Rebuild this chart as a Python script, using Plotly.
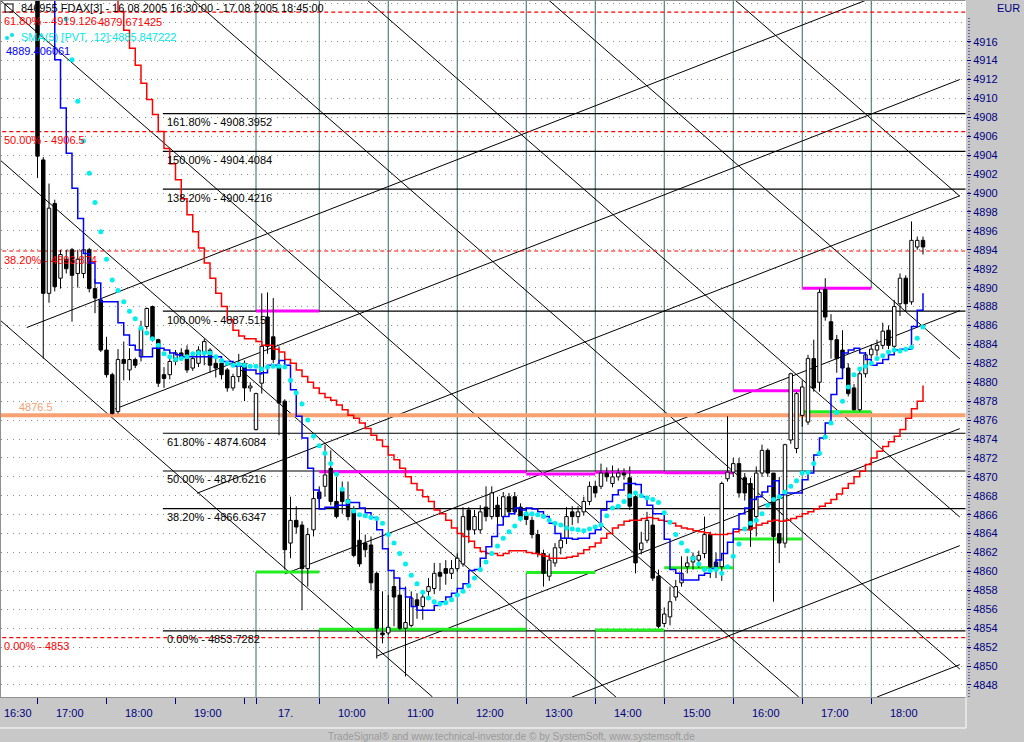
import plotly.graph_objects as go

# ---------------- data (5-minute bars, bar 0 = 16.08. 16:30) ----------------
bar_first = 6
opens = [4925.0, 4903.5, 4889.4, 4898.9, 4891.0, 4893.0, 4894.0, 4891.5, 4891.5, 4894.0,
         4889.9, 4888.7, 4883.4, 4880.8, 4876.9, 4882.4, 4881.3, 4882.4, 4882.7, 4885.9,
         4888.0, 4884.5, 4880.8, 4880.8, 4882.2, 4883.1, 4883.4, 4881.5, 4882.0, 4883.0,
         4883.4, 4882.0, 4882.0, 4881.3, 4879.4, 4880.6, 4882.0, 4879.4, 4875.0, 4879.9,
         4886.9, 4884.8, 4881.8, 4878.0, 4863.0, 4865.4, 4864.9, 4860.3, 4864.4, 4868.4,
         4869.0, 4870.9, 4867.4, 4868.5, 4867.6, 4866.5, 4863.3, 4863.0, 4862.8, 4859.8,
         4853.5, 4853.5, 4858.4, 4857.5, 4854.0, 4854.3, 4857.0, 4856.3, 4857.9, 4858.2,
         4859.9, 4860.3, 4859.8, 4860.3, 4860.8, 4866.5, 4864.4, 4864.4, 4866.8, 4865.8,
         4867.0, 4865.8, 4867.9, 4867.9, 4866.8, 4866.0, 4865.4, 4863.9, 4861.9, 4859.5,
         4860.9, 4862.5, 4863.5, 4866.3, 4865.8, 4866.3, 4867.4, 4869.0, 4869.0, 4870.4,
         4869.3, 4870.0, 4870.4, 4869.9, 4867.9, 4862.3, 4863.3, 4864.9, 4859.5, 4854.5,
         4855.2, 4857.3, 4858.8, 4860.5, 4861.0, 4861.2, 4861.9, 4863.9, 4861.0, 4860.5,
         4869.8, 4870.5, 4871.4, 4869.9, 4869.3, 4865.8, 4870.4, 4872.8, 4870.4, 4864.0,
         4863.0, 4873.9, 4873.0, 4876.5, 4875.8, 4882.5, 4880.0, 4889.8, 4886.4, 4884.5,
         4883.4, 4881.5, 4879.4, 4877.1, 4880.9, 4882.9, 4883.4, 4883.9, 4885.5, 4883.8,
         4888.3, 4891.0, 4888.5, 4894.3, 4895.0]
highs = [4926.0, 4903.8, 4901.0, 4899.3, 4894.0, 4894.0, 4894.2, 4894.0, 4894.2, 4894.2,
         4890.9, 4888.9, 4884.8, 4881.0, 4883.5, 4884.3, 4883.6, 4882.6, 4886.5, 4887.9,
         4888.1, 4884.6, 4881.6, 4882.5, 4883.4, 4883.6, 4883.9, 4883.2, 4883.8, 4884.6,
         4883.6, 4882.6, 4882.3, 4881.5, 4880.9, 4883.0, 4882.3, 4880.0, 4878.9, 4889.4,
         4889.5, 4888.9, 4883.8, 4878.2, 4867.9, 4866.9, 4865.3, 4864.6, 4868.6, 4869.0,
         4873.4, 4872.8, 4870.0, 4869.5, 4869.5, 4866.9, 4865.4, 4863.9, 4863.7, 4860.0,
         4857.9, 4857.5, 4859.3, 4858.4, 4858.4, 4857.9, 4857.7, 4858.0, 4859.3, 4860.9,
         4860.9, 4861.2, 4861.2, 4861.9, 4866.8, 4866.8, 4866.5, 4867.0, 4869.0, 4869.0,
         4867.9, 4868.4, 4868.3, 4868.4, 4867.2, 4866.8, 4865.8, 4864.4, 4862.3, 4861.9,
         4863.0, 4864.0, 4866.8, 4866.9, 4866.9, 4867.9, 4869.5, 4869.6, 4871.4, 4871.0,
         4871.2, 4870.9, 4870.9, 4871.1, 4868.1, 4864.2, 4866.3, 4866.4, 4860.2, 4856.2,
         4858.4, 4859.1, 4861.6, 4861.6, 4862.0, 4862.2, 4865.8, 4864.2, 4862.0, 4869.5,
         4876.4, 4872.0, 4872.0, 4870.4, 4869.9, 4871.1, 4873.4, 4873.0, 4870.4, 4870.0,
         4873.5, 4881.0, 4879.0, 4880.2, 4882.9, 4884.5, 4889.9, 4891.0, 4887.2, 4885.0,
         4885.5, 4882.0, 4879.8, 4881.2, 4883.2, 4884.0, 4884.5, 4886.3, 4886.0, 4888.7,
         4891.5, 4891.3, 4897.0, 4895.4, 4895.4]
lows = [4901.6, 4882.5, 4888.4, 4889.6, 4889.9, 4891.5, 4886.4, 4890.0, 4891.0, 4889.5,
        4887.3, 4883.2, 4880.5, 4876.6, 4876.7, 4880.2, 4880.2, 4881.5, 4882.2, 4885.6,
        4884.3, 4879.5, 4879.4, 4880.3, 4881.8, 4882.3, 4881.0, 4881.2, 4881.6, 4881.8,
        4881.0, 4880.5, 4880.3, 4879.0, 4879.1, 4880.0, 4878.0, 4879.0, 4874.9, 4878.8,
        4883.0, 4882.0, 4874.4, 4860.2, 4861.4, 4864.0, 4855.9, 4858.4, 4863.7, 4867.3,
        4867.9, 4867.0, 4865.6, 4866.1, 4865.4, 4861.5, 4860.5, 4861.5, 4858.0, 4850.8,
        4852.4, 4853.3, 4854.2, 4853.8, 4848.9, 4854.1, 4855.0, 4854.9, 4857.0, 4857.6,
        4858.0, 4858.6, 4859.2, 4860.0, 4860.5, 4863.0, 4863.9, 4864.0, 4865.3, 4865.5,
        4864.7, 4865.6, 4865.9, 4866.0, 4865.3, 4864.9, 4863.5, 4861.5, 4858.4, 4859.0,
        4860.5, 4861.8, 4862.9, 4864.9, 4865.1, 4865.9, 4867.0, 4867.8, 4868.7, 4869.5,
        4868.9, 4869.6, 4869.7, 4866.5, 4859.8, 4861.8, 4863.0, 4859.0, 4854.0, 4854.1,
        4854.3, 4856.9, 4858.4, 4859.8, 4860.2, 4860.4, 4861.4, 4859.3, 4859.3, 4859.0,
        4869.5, 4870.0, 4867.8, 4867.5, 4862.6, 4863.7, 4870.0, 4870.0, 4856.8, 4860.9,
        4862.5, 4873.5, 4872.5, 4875.3, 4875.5, 4879.0, 4879.0, 4886.5, 4882.5, 4881.0,
        4881.0, 4878.5, 4877.0, 4876.9, 4880.5, 4882.5, 4882.8, 4883.5, 4883.5, 4883.5,
        4887.0, 4887.5, 4888.2, 4894.0, 4893.5]
closes = [4903.9, 4889.4, 4898.4, 4890.1, 4893.5, 4892.0, 4891.3, 4893.0, 4894.0, 4889.9,
          4888.9, 4883.4, 4880.8, 4876.7, 4882.4, 4882.0, 4882.4, 4881.8, 4885.7, 4887.8,
          4884.5, 4879.9, 4880.4, 4882.2, 4883.1, 4882.7, 4881.3, 4882.5, 4883.4, 4884.3,
          4881.8, 4881.5, 4880.8, 4879.4, 4880.6, 4881.8, 4879.4, 4879.6, 4878.8, 4883.8,
          4883.8, 4882.4, 4877.8, 4862.3, 4865.4, 4864.7, 4860.3, 4863.9, 4867.7, 4867.7,
          4870.2, 4867.4, 4865.8, 4867.4, 4865.8, 4861.7, 4860.8, 4862.3, 4858.8, 4854.0,
          4853.3, 4854.1, 4857.3, 4854.0, 4854.6, 4857.2, 4856.4, 4857.3, 4858.4, 4859.8,
          4859.5, 4859.8, 4860.3, 4861.4, 4865.8, 4864.4, 4865.8, 4866.3, 4865.8, 4868.3,
          4865.8, 4867.9, 4866.3, 4866.3, 4865.8, 4865.5, 4863.9, 4861.9, 4859.8, 4861.2,
          4862.5, 4863.3, 4865.8, 4865.8, 4866.3, 4867.4, 4869.0, 4868.3, 4870.4, 4870.0,
          4870.0, 4870.4, 4870.2, 4866.9, 4860.9, 4863.0, 4865.4, 4859.3, 4854.2, 4855.5,
          4856.8, 4858.4, 4859.8, 4860.9, 4861.6, 4861.7, 4863.9, 4860.5, 4860.5, 4869.3,
          4870.5, 4871.4, 4868.3, 4868.3, 4864.4, 4870.4, 4872.8, 4870.4, 4863.7, 4863.0,
          4873.4, 4880.9, 4878.8, 4879.5, 4882.5, 4879.4, 4889.5, 4886.9, 4884.5, 4882.5,
          4881.5, 4878.8, 4877.1, 4880.9, 4882.9, 4883.5, 4883.9, 4885.4, 4883.9, 4888.0,
          4891.0, 4888.3, 4895.0, 4895.0, 4894.3]

blue_first = 8
blue_vals = [4921.5, 4914.1, 4909.0, 4904.2, 4900.5, 4897.3, 4893.6, 4892.6, 4890.5, 4888.5,
             4888.5, 4888.5, 4886.3, 4885.0, 4883.9, 4883.4, 4882.7, 4882.7, 4883.6, 4883.6,
             4883.4, 4883.1, 4882.9, 4882.7, 4882.7, 4882.7, 4882.7, 4882.7, 4882.7, 4882.7,
             4882.2, 4882.2, 4881.7, 4881.7, 4881.3, 4881.3, 4880.9, 4881.0, 4881.8, 4881.8,
             4882.3, 4881.8, 4879.2, 4876.4, 4874.1, 4870.9, 4868.6, 4866.6, 4866.8, 4866.8,
             4867.0, 4867.0, 4867.3, 4867.3, 4866.7, 4866.2, 4865.7, 4864.4, 4862.4, 4860.1,
             4859.3, 4858.2, 4857.3, 4856.3, 4855.9, 4855.9, 4855.9, 4856.4, 4856.8, 4857.3,
             4857.7, 4858.2, 4858.7, 4860.1, 4860.2, 4861.4, 4862.6, 4863.7, 4864.9, 4865.8,
             4866.1, 4866.7, 4866.5, 4866.7, 4866.6, 4866.3, 4865.8, 4865.1, 4864.0, 4863.5,
             4863.5, 4863.4, 4863.5, 4863.5, 4864.0, 4864.4, 4866.5, 4867.4, 4868.1, 4868.6,
             4869.3, 4869.3, 4869.2, 4867.9, 4867.0, 4866.1, 4866.1, 4863.4, 4860.2, 4859.8,
             4859.1, 4859.1, 4859.1, 4859.6, 4859.8, 4860.3, 4861.2, 4861.9, 4863.1, 4864.5,
             4866.1, 4866.7, 4867.6, 4867.9, 4868.4, 4869.0, 4869.6, 4868.1, 4868.3, 4868.3,
             4868.3, 4869.7, 4870.4, 4872.3, 4874.1, 4875.7, 4878.7, 4880.4, 4883.1, 4883.4,
             4883.6, 4883.1, 4882.4, 4881.8, 4882.0, 4882.4, 4882.9, 4883.4, 4883.5, 4883.5,
             4885.9, 4887.6, 4889.4]

red_first = 19
red_vals = [4921.5, 4919.2, 4917.2, 4915.3, 4913.5, 4911.6, 4909.9, 4908.3, 4906.5, 4904.7,
            4903.1, 4901.4, 4899.4, 4897.7, 4895.9, 4894.2, 4892.6, 4891.0, 4889.4, 4888.0,
            4886.6, 4885.5, 4884.9, 4884.6, 4884.6, 4884.3, 4883.9, 4883.9, 4883.5, 4883.2,
            4882.4, 4882.0, 4881.3, 4880.6, 4880.0, 4879.4, 4878.8, 4878.4, 4878.1, 4877.6,
            4877.1, 4876.5, 4876.2, 4875.7, 4875.1, 4874.4, 4873.9, 4873.2, 4872.3, 4871.8,
            4870.9, 4870.0, 4869.3, 4868.6, 4867.9, 4867.4, 4866.5, 4866.1, 4865.4, 4864.6,
            4864.0, 4863.7, 4863.2, 4862.5, 4862.1, 4861.9, 4861.9, 4861.7, 4861.9, 4862.2,
            4862.2, 4862.2, 4862.0, 4861.9, 4861.8, 4861.6, 4861.4, 4861.4, 4861.4, 4861.5,
            4861.6, 4861.9, 4862.3, 4862.6, 4863.0, 4863.5, 4864.0, 4864.6, 4864.9, 4865.3,
            4865.4, 4865.4, 4865.6, 4865.7, 4865.6, 4865.4, 4865.3, 4865.1, 4864.8, 4864.6,
            4864.5, 4864.3, 4864.2, 4864.1, 4863.9, 4863.9, 4863.9, 4864.0, 4864.2, 4864.4,
            4864.4, 4864.6, 4864.9, 4865.1, 4865.3, 4865.4, 4865.3, 4865.4, 4865.6, 4865.8,
            4866.1, 4866.3, 4866.6, 4866.9, 4867.2, 4867.6, 4868.2, 4868.8, 4869.3, 4870.0,
            4870.6, 4871.3, 4872.0, 4872.7, 4873.2, 4873.7, 4874.3, 4875.0, 4876.2, 4877.2,
            4878.0, 4879.67]

cyan_first = 11
cyan_vals = [4918.4, 4914.1, 4909.7, 4905.5, 4902.1, 4899.0, 4895.9, 4893.0, 4890.8, 4889.7,
             4888.5, 4887.5, 4886.7, 4885.7, 4885.2, 4884.6, 4883.9, 4883.0, 4882.7, 4882.4,
             4882.5, 4882.7, 4883.0, 4883.1, 4883.1, 4883.1, 4882.7, 4882.3, 4882.0, 4881.8,
             4881.9, 4881.8, 4881.7, 4881.7, 4881.4, 4881.6, 4881.7, 4881.7, 4881.6, 4880.2,
             4878.9, 4877.7, 4876.0, 4874.3, 4873.3, 4872.5, 4871.4, 4870.3, 4868.7, 4867.4,
             4866.4, 4866.0, 4865.9, 4865.7, 4865.6, 4865.1, 4863.9, 4863.0, 4861.9, 4860.8,
             4859.6, 4858.7, 4857.8, 4857.2, 4856.8, 4856.6, 4856.7, 4857.0, 4857.5, 4857.9,
             4858.5, 4859.3, 4860.2, 4861.0, 4861.9, 4862.7, 4863.5, 4864.2, 4864.8, 4865.6,
             4866.1, 4866.1, 4866.0, 4865.8, 4865.4, 4865.1, 4864.9, 4864.6, 4864.5, 4864.4,
             4864.3, 4864.5, 4864.7, 4864.9, 4865.9, 4866.7, 4866.9, 4867.4, 4868.0, 4868.3,
             4868.0, 4867.8, 4867.6, 4867.3, 4866.2, 4865.2, 4863.9, 4863.0, 4862.2, 4861.4,
             4860.8, 4860.2, 4860.1, 4860.2, 4859.8, 4860.5, 4861.6, 4862.9, 4864.5, 4865.1,
             4865.4, 4866.1, 4867.0, 4867.6, 4867.9, 4868.4, 4869.0, 4869.6, 4870.4, 4870.5,
             4871.4, 4872.5, 4874.2, 4875.7, 4876.8, 4878.0, 4879.5, 4880.8, 4881.4, 4881.7,
             4882.0, 4882.5, 4882.8, 4883.2, 4883.4, 4883.3, 4883.5, 4883.7, 4884.65, 4885.85]

# Fibonacci retracement (red dashed) and extension (black) levels
ret_levels = [4919.126, 4906.5, 4893.874, 4853.0]
ret_labels = ["61.80% - 4919.126", "50.00% - 4906.5", "38.20% - 4893.874", "0.00% - 4853"]
ext_levels = [4908.3952, 4904.4084, 4900.4216, 4887.515, 4874.6084, 4870.6216, 4866.6347, 4853.7282]
ext_labels = ["161.80% - 4908.3952", "150.00% - 4904.4084", "138.20% - 4900.4216", "100.00% - 4887.515",
              "61.80% - 4874.6084", "50.00% - 4870.6216", "38.20% - 4866.6347", "0.00% - 4853.7282"]
ext_start_bar = 27.8
pivot_level = 4876.5

# hourly range markers (magenta = high, green = low)
box_start = [44, 55, 91, 103, 115, 127, 139]
box_end = [55, 91, 103, 115, 127, 139, 151]
box_high = [4887.53, 4870.55, 4870.3, 4870.5, 4870.44, 4879.1, 4889.93]
box_low = [4859.94, 4853.9, 4859.9, 4853.8, 4860.4, 4863.43, 4876.89]

# hour separator lines: drawn from top down to hour_top and from hour_bottom down
hour_bars = [44, 55, 67, 79, 91, 103, 115, 127, 139, 151]
hour_top = [4887.53, 4887.53, None, None, 4870.5, 4870.5, 4870.5, 4879.1, 4889.93, 4889.93]
hour_bottom = [4859.94, 4853.9, None, None, 4859.9, 4853.85, 4853.85, 4863.4, 4876.9, 4876.9]

# trend channel lines (bar, price) start -> end
chan_i0 = [127.3, 94.87, 63.3, 33.04, -0.52, -0.52, -0.52, 4.12, 19.48, 33.74, 49.0, 65.04, 98.96, 152.0]
chan_p0 = [4920.41, 4920.41, 4920.41, 4920.41, 4920.41, 4903.5, 4886.58,
           4885.78, 4877.17, 4868.27, 4859.74, 4851.06, 4846.73, 4846.73]
chan_i1 = [166.4, 166.4, 166.4, 166.4, 138.4, 106.6, 74.7, 150.2, 166.4, 166.4, 166.4, 166.4, 166.4, 166.4]
chan_p1 = [4899.67, 4882.48, 4865.75, 4849.68, 4846.73, 4846.73, 4846.73,
           4920.41, 4912.0, 4899.71, 4887.57, 4875.1, 4862.73, 4850.15]

# time axis
tick_bars = [6, 18, 30, 42, 44, 55, 67, 79, 91, 103, 115, 127, 139, 151]
time_labels = ["16:30", "17:00", "18:00", "19:00", "17.", "10:00", "11:00", "12:00",
               "13:00", "14:00", "15:00", "16:00", "17:00", "18:00"]
label_from = [0, 6, 18, 30, 44, 55, 67, 79, 91, 103, 115, 127, 139, 151]
label_to = [6, 18, 30, 42, 55, 67, 79, 91, 103, 115, 127, 139, 151, 163]
price_ticks = list(range(4848, 4918, 2))

assert len(opens) == len(highs) == len(lows) == len(closes) == 155
assert len(blue_vals) == 153 and len(red_vals) == 142 and len(cyan_vals) == 150

# ---------------- figure ----------------
X_RANGE = [-0.348, 167.478]
Y_RANGE = [4846.73, 4920.30]
TOP, BOT = 4925.0, 4840.0
FONT = "Liberation Sans, Arial, sans-serif"
NAVY = "#000080"

fig = go.Figure()


def seg_trace(xs, ys, color, width, dash=None):
    fig.add_trace(go.Scatter(x=xs, y=ys, mode="lines", hoverinfo="skip",
                             line=dict(color=color, width=width, dash=dash)))


# hour separators
hx, hy = [], []
for b, t, lo in zip(hour_bars, hour_top, hour_bottom):
    if t is None:
        hx += [b, b, None]; hy += [TOP, BOT, None]
    else:
        hx += [b, b, None, b, b, None]; hy += [TOP, t, None, lo, BOT, None]
seg_trace(hx, hy, "#336666", 1)

# channel lines
cx, cy = [], []
for a, b, c, d in zip(chan_i0, chan_p0, chan_i1, chan_p1):
    cx += [a, c, None]; cy += [b, d, None]
seg_trace(cx, cy, "#000000", 1)

# fibonacci extension lines
ex, ey = [], []
for lv in ext_levels:
    ex += [ext_start_bar, X_RANGE[1] + 1, None]; ey += [lv, lv, None]
seg_trace(ex, ey, "#000000", 1.2)

# retracement lines
rx, ry = [], []
for lv in ret_levels:
    rx += [X_RANGE[0] - 1, X_RANGE[1] + 1, None]; ry += [lv, lv, None]
seg_trace(rx, ry, "#ff0000", 1.2, dash="4px,3px")

# pivot
seg_trace([X_RANGE[0] - 1, X_RANGE[1] + 1], [pivot_level, pivot_level], "#f7a072", 4)

# hour high / low markers
mx, my, gx, gy = [], [], [], []
for s, e, h, lo in zip(box_start, box_end, box_high, box_low):
    mx += [s, e, None]; my += [h, h, None]
    gx += [s, e, None]; gy += [lo, lo, None]
seg_trace(mx, my, "#ff00ff", 3)
seg_trace(gx, gy, "#22ee22", 3)

# candles
wx, wy = [], []
ux, uy, dx, dy = [], [], [], []
HALF = 0.3
for k, (o, h, l, c) in enumerate(zip(opens, highs, lows, closes)):
    i = bar_first + k
    top, bot = max(o, c), min(o, c)
    if top - bot < 0.12:
        top = bot + 0.12
    wx += [i, i, None, i, i, None]; wy += [h, top, None, bot, l, None]
    px = [i - HALF, i + HALF, i + HALF, i - HALF, i - HALF, None]
    py = [bot, bot, top, top, bot, None]
    if c >= o:
        ux += px; uy += py
    else:
        dx += px; dy += py
seg_trace(wx, wy, "#000000", 1)
fig.add_trace(go.Scatter(x=ux, y=uy, mode="lines", fill="toself", fillcolor="#ffffff",
                         line=dict(color="#000000", width=1), hoverinfo="skip"))
fig.add_trace(go.Scatter(x=dx, y=dy, mode="lines", fill="toself", fillcolor="#000000",
                         line=dict(color="#000000", width=1), hoverinfo="skip"))

# moving averages
fig.add_trace(go.Scatter(x=list(range(red_first, red_first + len(red_vals))), y=red_vals,
                         mode="lines", line=dict(color="#ff0000", width=1.5, shape="hv"),
                         hoverinfo="skip"))
fig.add_trace(go.Scatter(x=list(range(blue_first, blue_first + len(blue_vals))), y=blue_vals,
                         mode="lines", line=dict(color="#0000ff", width=1.5, shape="hv"),
                         hoverinfo="skip"))
fig.add_trace(go.Scatter(x=list(range(cyan_first, cyan_first + len(cyan_vals))), y=cyan_vals,
                         mode="markers", marker=dict(color="#00f0f0", size=5, line=dict(width=0)),
                         hoverinfo="skip"))


def pxx(px):
    return (px - 1) / 965.0


def pxy(py):
    return (697 - py) / 696.0


ann = []


def text(x, y, s, color="#000000", xanchor="left", size=11, xref="paper", yref="paper",
         yshift=0, yanchor="middle"):
    ann.append(dict(x=x, y=y, xref=xref, yref=yref, text=s, showarrow=False,
                    xanchor=xanchor, yanchor=yanchor, yshift=yshift,
                    font=dict(family=FONT, size=size, color=color)))


text(pxx(19), pxy(8), "846955 FDAX[3] - 16.08.2005 16:30:00 - 17.08.2005 18:45:00")
for lv, lab in zip(ret_levels, ret_labels):
    text(pxx(2), lv, lab, color="#ff0000", yref="y", yshift=-8.5)
text(pxx(96), pxy(22), "4879.671425", color="#ff0000")
text(pxx(19), pxy(37), "SMA(5) [PVT, .12]:4885.847222", color="#00e8e8")
text(pxx(4), pxy(51), "4889.406061", color="#0000ff")
for lv, lab in zip(ext_levels, ext_labels):
    text(ext_start_bar + 0.35, lv, lab, xref="x", yref="y", yshift=-8.5)
text(pxx(17), pivot_level, "4876.5", color="#f7a072", yref="y", yshift=8)
text(pxx(1008), pxy(8), "EUR", color=NAVY, xanchor="center")
for lab, a, b in zip(time_labels, label_from, label_to):
    text((a + b) / 2.0 - 0.35, pxy(713), lab, color=NAVY, xanchor="center", xref="x")
text(0.5 * (pxx(0) + pxx(1024)), pxy(736),
     "TradeSignal® and www.technical-investor.de © by SystemSoft, www.systemsoft.de",
     color="#9a9a9a", xanchor="center", size=10)

shapes = [
    dict(type="line", xref="paper", yref="paper", x0=pxx(969), x1=pxx(969), y0=0, y1=pxy(18),
         line=dict(color=NAVY, width=1, dash="1px,2px")),
    dict(type="line", xref="paper", yref="paper", x0=pxx(0), x1=pxx(966), y0=pxy(728), y1=pxy(728),
         line=dict(color="#ffffff", width=1)),
    dict(type="line", xref="paper", yref="paper", x0=pxx(966), x1=pxx(966), y0=pxy(728), y1=pxy(0),
         line=dict(color="#ffffff", width=1)),
    dict(type="rect", xref="paper", yref="paper", x0=pxx(5), x1=pxx(13), y0=pxy(12), y1=pxy(4),
         line=dict(color="#000000", width=1), fillcolor="rgba(0,0,0,0)"),
    dict(type="circle", xref="paper", yref="paper", x0=pxx(5), x1=pxx(9), y0=pxy(40), y1=pxy(36),
         line=dict(width=0), fillcolor="#00e8e8"),
    dict(type="circle", xref="paper", yref="paper", x0=pxx(10), x1=pxx(14), y0=pxy(37), y1=pxy(33),
         line=dict(width=0), fillcolor="#00e8e8"),
]

fig.update_layout(
    width=1024, height=742,
    margin=dict(l=1, r=58, t=1, b=45, autoexpand=False),
    paper_bgcolor="#c8c8c8", plot_bgcolor="#ffffff",
    showlegend=False, annotations=ann, shapes=shapes,
    xaxis=dict(range=X_RANGE, showgrid=False, zeroline=False, showticklabels=False,
               tickmode="array", tickvals=tick_bars, ticks="outside", ticklen=6,
               tickcolor=NAVY, tickwidth=1, showline=True, linecolor="#909090", mirror=True,
               fixedrange=True),
    yaxis=dict(range=Y_RANGE, side="right", zeroline=False, tickmode="array",
               tickvals=price_ticks, ticktext=[str(v) for v in price_ticks],
               ticks="outside", ticklen=4, tickcolor=NAVY,
               tickfont=dict(family=FONT, size=11, color=NAVY),
               showgrid=True, gridcolor="#8c8c8c", griddash="1px,5px", gridwidth=1,
               minor=dict(tick0=4848, dtick=2, showgrid=True, gridcolor="#8c8c8c",
                          griddash="1px,5px", ticks=""),
               showline=True, linecolor="#909090", mirror=True, fixedrange=True),
)

fig.write_html("out.html", config={"displayModeBar": False},
               post_script="document.body.style.margin='0';document.body.style.overflow='hidden';")
